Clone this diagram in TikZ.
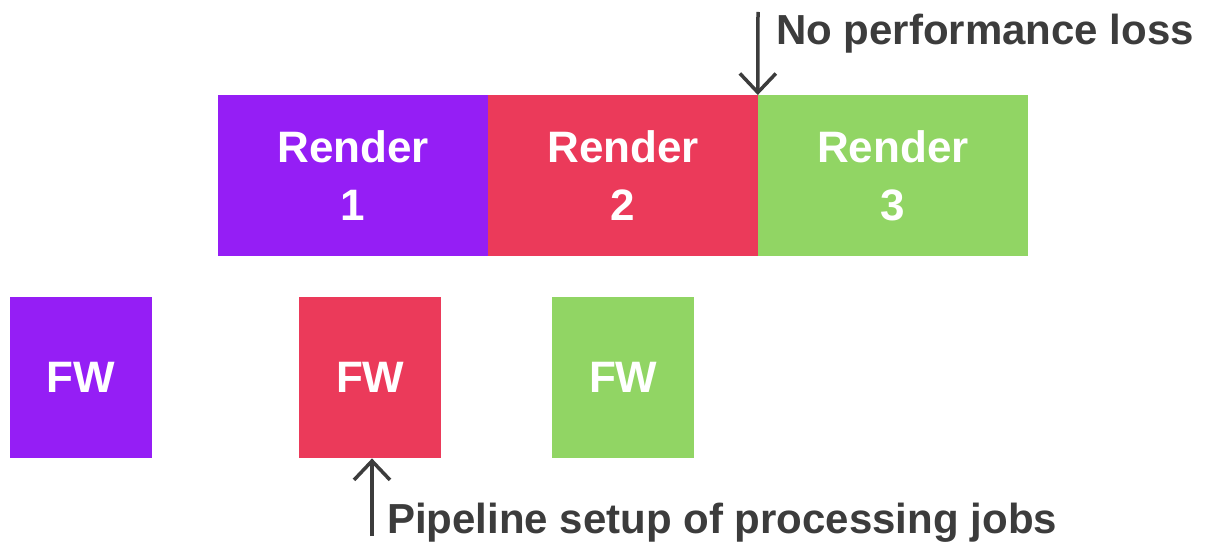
\documentclass[tikz,border=0pt]{standalone}
\usepackage{fontspec}
\setmainfont{Liberation Sans}
\usepackage{tikz}
\usetikzlibrary{positioning,arrows.meta}
\definecolor{ink}{HTML}{3C3C3C}
\definecolor{jobpurple}{HTML}{951EF5}
\definecolor{jobred}{HTML}{EB3A5A}
\definecolor{jobgreen}{HTML}{91D564}

\begin{document}
\begin{tikzpicture}[x=1pt,y=-1pt,
    render/.style={minimum width=270pt, minimum height=161pt, inner sep=0pt,
                   align=center, text=white, font=\fontsize{44}{58}\selectfont\bfseries},
    fw/.style={minimum width=142pt, minimum height=161pt, inner sep=0pt,
               text=white, font=\fontsize{44}{58}\selectfont\bfseries},
    note/.style={text=ink, inner sep=0pt, font=\fontsize{42}{58}\selectfont\bfseries},
    pointer/.style={draw=ink, line width=3.5pt, -{Straight Barb[length=19pt,width=36pt]}}]
  \useasboundingbox (0,0) rectangle (1214,556);

  % render jobs, back to back
  \node[render, fill=jobpurple, anchor=north west] (render1) at (218,95) {Render\\1};
  \node[render, fill=jobred, right=-0.5pt of render1] (render2) {Render\\2};
  \node[render, fill=jobgreen, right=-0.5pt of render2] (render3) {Render\\3};

  % firmware jobs
  \node[fw, fill=jobpurple, anchor=north west] (fw1) at (10,297) {FW};
  \node[fw, fill=jobred, anchor=north west] (fw2) at (299,297) {FW};
  \node[fw, fill=jobgreen, anchor=north west] (fw3) at (552,297) {FW};

  % notes
  \node[note, anchor=base west] (lossnote) at (776,45) {No performance loss};
  \node[note, anchor=base west] (pipenote) at (387,533) {Pipeline setup of processing jobs};
  \coordinate (losstail) at (758,12);
  \coordinate (pipetail) at (372,536);
  \draw[pointer] (losstail) -- (render3.north west);
  \draw[pointer] (pipetail) -- (pipetail |- fw2.south);
\end{tikzpicture}
\end{document}
